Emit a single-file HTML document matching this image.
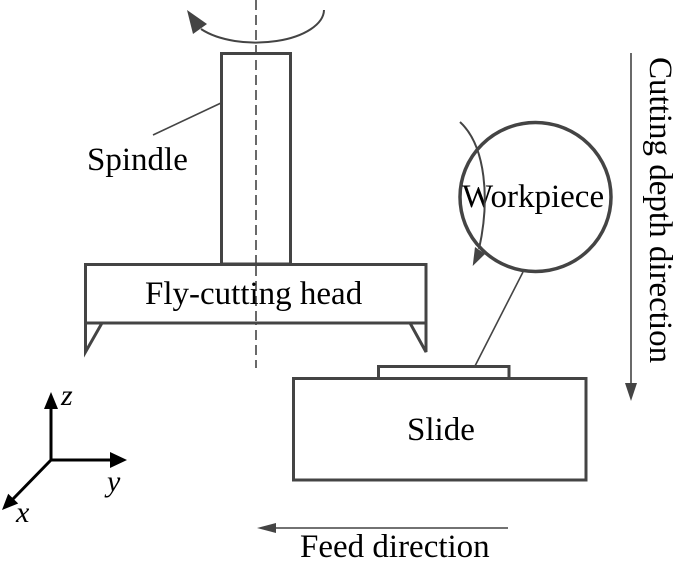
<!DOCTYPE html>
<html>
<head>
<meta charset="utf-8">
<style>
html,body{margin:0;padding:0;background:#fff;}
svg{display:block;}
text{font-family:"Liberation Serif","Times New Roman",serif;fill:#000;}
</style>
</head>
<body>
<svg width="685" height="569" viewBox="0 0 685 569" xmlns="http://www.w3.org/2000/svg">
  <!-- spindle centerline -->
  <line x1="256" y1="0" x2="256" y2="368" stroke="#444" stroke-width="1.6" stroke-dasharray="10,5"/>

  <!-- spindle rotation arc -->
  <path d="M324,10 A68,33 0 0 1 201,29" fill="none" stroke="#444" stroke-width="2"/>
  <polygon points="187,10 193,34 207,24" fill="#444"/>

  <!-- spindle -->
  <rect x="221.5" y="53.5" width="69" height="210.5" fill="none" stroke="#444" stroke-width="3"/>
  <line x1="153" y1="135" x2="221" y2="103" stroke="#444" stroke-width="1.6"/>
  <text x="87" y="170" font-size="33">Spindle</text>

  <!-- fly-cutting head -->
  <rect x="85.5" y="264.5" width="340.5" height="58.5" fill="#fff" stroke="#444" stroke-width="3"/>
  <line x1="256" y1="266" x2="256" y2="322" stroke="#444" stroke-width="1.6" stroke-dasharray="10,5"/>
  <text x="145" y="304" font-size="33">Fly-cutting head</text>
  <polyline points="85.5,323 85.5,352 102,323" fill="none" stroke="#444" stroke-width="3" stroke-linejoin="miter"/>
  <polyline points="426,323 426,352 410,323" fill="none" stroke="#444" stroke-width="3" stroke-linejoin="miter"/>

  <!-- workpiece -->
  <ellipse cx="535.5" cy="197" rx="75.5" ry="74.5" fill="none" stroke="#444" stroke-width="3.5"/>
  <text x="462" y="207" font-size="33">Workpiece</text>
  <path d="M460,122 C486,146 490,200 479,249" fill="none" stroke="#444" stroke-width="2"/>
  <polygon points="472.7,266 475,247 485,254" fill="#444"/>
  <line x1="523" y1="272" x2="475" y2="366" stroke="#444" stroke-width="1.6"/>

  <!-- plate & slide -->
  <rect x="378.5" y="366.5" width="130.5" height="12" fill="none" stroke="#444" stroke-width="3"/>
  <rect x="293.5" y="378.5" width="292.5" height="101.5" fill="none" stroke="#444" stroke-width="3"/>
  <text x="407" y="440" font-size="33">Slide</text>

  <!-- cutting depth direction -->
  <line x1="631" y1="53" x2="631" y2="386" stroke="#444" stroke-width="1.6"/>
  <polygon points="631,401 625,383 637,383" fill="#444"/>
  <text transform="translate(650,57) rotate(90)" x="0" y="0" font-size="33">Cutting depth direction</text>

  <!-- feed direction -->
  <line x1="508" y1="528" x2="272" y2="528" stroke="#444" stroke-width="1.6"/>
  <polygon points="257,528 276,523 276,533" fill="#444"/>
  <text x="300" y="557" font-size="33">Feed direction</text>

  <!-- axes -->
  <line x1="51" y1="461" x2="51" y2="405" stroke="#000" stroke-width="3"/>
  <polygon points="51,392 44,409 58,409" fill="#000"/>
  <line x1="50" y1="460" x2="112" y2="460" stroke="#000" stroke-width="3"/>
  <polygon points="127,460 110,452 110,468" fill="#000"/>
  <line x1="51" y1="460" x2="13" y2="499" stroke="#000" stroke-width="3"/>
  <polygon points="2,510 18.2,503.5 8.2,493.7" fill="#000"/>
  <text x="61" y="405" font-size="30" font-style="italic">z</text>
  <text x="107" y="491" font-size="30" font-style="italic">y</text>
  <text x="16" y="522" font-size="30" font-style="italic">x</text>
</svg>
</body>
</html>
